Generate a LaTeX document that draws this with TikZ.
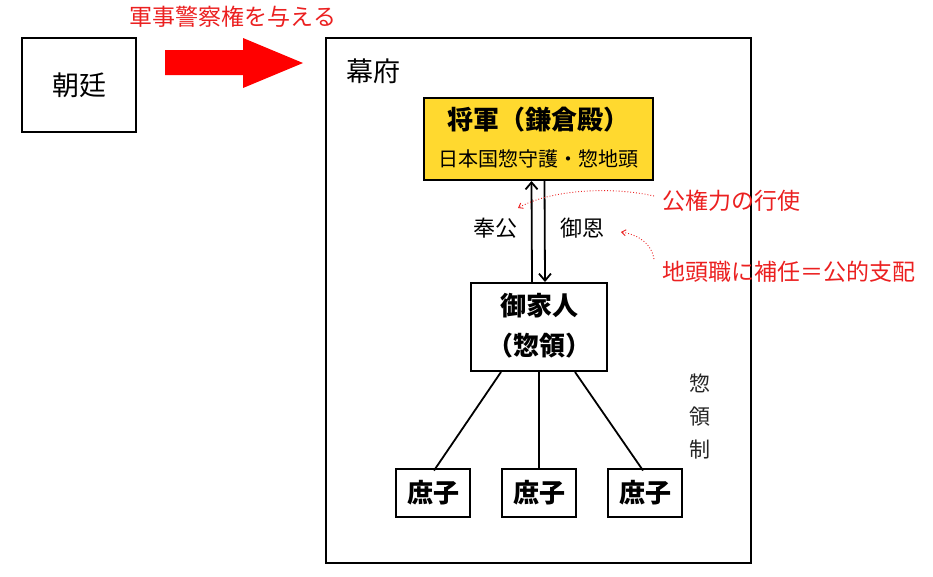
\documentclass[tikz,border=0pt]{standalone}
\usepackage{fontspec}
\setmainfont{Noto Sans CJK JP}
\usetikzlibrary{arrows.meta,calc}
\definecolor{jred}{RGB}{235,32,32}
\definecolor{ared}{RGB}{255,0,0}
\definecolor{kyellow}{RGB}{255,217,47}
\newcommand{\fsz}[1]{\fontsize{#1}{#1}\selectfont}
\begin{document}
\begin{tikzpicture}[x=1pt,y=-1pt,
  box/.style={draw=black,line width=2pt,inner sep=0pt,align=center},
  lbl/.style={inner sep=0pt,align=center},
  redlbl/.style={inner sep=0pt,text=jred,font=\fsz{23}},
  link/.style={line width=1.8pt},
  hint/.style={jred,dotted,line width=0.9pt,-{Straight Barb[length=4pt,width=6pt]}}
]
\useasboundingbox (0,0) rectangle (933,576);
% outer boxes
\node[box,minimum width=114pt,minimum height=94pt,font=\fsz{27}] (chotei) at (79,85) {朝廷};
\node[box,minimum width=425pt,minimum height=525pt] (bakufu) at (538.5,300.5) {};
\node[lbl,font=\fsz{27},anchor=north west] (bakufulbl) at (346,59) {幕府};
% red arrow
\fill[ared] (165,50) -- (243,50) -- (243,38) -- (303,63) -- (243,88) -- (243,75) -- (165,75) -- cycle;
\node[redlbl] (gunji) at (233,17) {軍事警察権を与える};
% shogun
\node[box,fill=kyellow,minimum width=229pt,minimum height=82pt] (shogun) at (538.5,139) {};
\node[lbl,font=\fsz{26}\bfseries] (shogunt) at (538.5,120) {将軍（鎌倉殿）};
\node[lbl,font=\fsz{20}] (shoguns) at (538.5,159) {日本国惣守護・惣地頭};
% gokenin
\node[box,minimum width=136pt,minimum height=88pt] (gokenin) at (539,327) {};
\node[lbl,font=\fsz{26}\bfseries] (gokenint) at (539,306) {御家人};
\node[lbl,font=\fsz{26}\bfseries] (gokenins) at (539,346) {（惣領）};
% arrows between shogun and gokenin
\draw[link,-{Straight Barb[length=7pt,width=12pt]}] ($(gokenin.north)+(-7,0)$) -- ($(shogun.south)+(-7,0)$);
\draw[link,-{Straight Barb[length=7pt,width=12pt]}] ($(shogun.south)+(6,0)$) -- ($(gokenin.north)+(6,0)$);
\node[lbl,font=\fsz{22}] (hoko) at (495,228) {奉公};
\node[lbl,font=\fsz{22}] (goon) at (582,228) {御恩};
% shoshi
\node[box,minimum width=74pt,minimum height=48pt,font=\fsz{26}\bfseries] (s1) at (433,492.5) {庶子};
\node[box,minimum width=74pt,minimum height=48pt,font=\fsz{26}\bfseries] (s2) at (539,492.5) {庶子};
\node[box,minimum width=74pt,minimum height=48pt,font=\fsz{26}\bfseries] (s3) at (645,492.5) {庶子};
\draw[link] ($(gokenin.south)+(-38,0)$) -- ($(s1.north)+(1,3)$);
\draw[link] (gokenin.south) -- (s2.north);
\draw[link] ($(gokenin.south)+(36,0)$) -- ($(s3.north)+(-2,3)$);
\node[lbl,font=\fsz{21},text=black!85] (soryosei) at (700,383) {惣};
\node[lbl,font=\fsz{21},text=black!85] (soryosei2) at (700,416.5) {領};
\node[lbl,font=\fsz{21},text=black!85] (soryosei3) at (700,450) {制};
% red annotations
\node[redlbl,anchor=west] (kenryoku) at (662,201) {公権力の行使};
\node[redlbl,anchor=west] (jitou) at (662,272) {地頭職に補任＝公的支配};
\coordinate (a1) at (654,196);
\coordinate (t1) at (518,208);
\coordinate (a2) at (654,259);
\coordinate (t2) at (621,232);
\draw[hint] (a1) .. controls (610,186) and (550,190) .. (t1);
\draw[hint] (a2) .. controls (652,245) and (640,235) .. (t2);
\end{tikzpicture}
\end{document}
